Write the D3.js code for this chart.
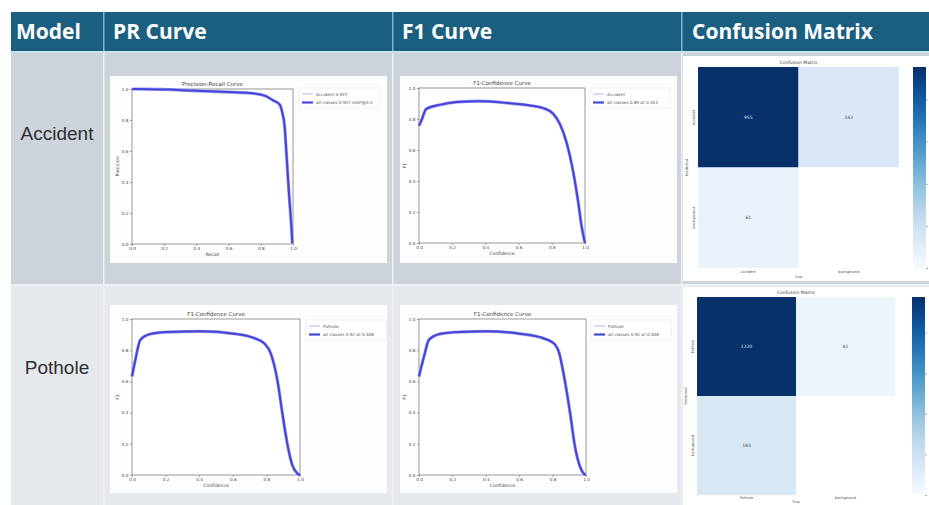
<!DOCTYPE html>
<html><head><meta charset="utf-8">
<script src="https://cdn.jsdelivr.net/npm/d3@7"></script>
<style>html,body{margin:0;padding:0;background:#fff;}svg{display:block;}</style>
</head><body>
<svg id="c" width="929" height="505"></svg>
<script>
// ---------- data ----------
const headers = ["Model", "PR Curve", "F1 Curve", "Confusion Matrix"];
const models = ["Accident", "Pothole"];
const axisTicks = [0, 0.2, 0.4, 0.6, 0.8, 1.0];

// Accident PR curve (recall, precision)
const accPrRecall    = [0, 0.10, 0.237, 0.36, 0.485, 0.60, 0.73, 0.825, 0.876, 0.918, 0.934, 0.948, 0.959, 0.975, 0.99, 0.996];
const accPrPrecision = [1.0, 0.999, 0.996, 0.99, 0.985, 0.98, 0.974, 0.957, 0.927, 0.899, 0.845, 0.759, 0.586, 0.328, 0.112, 0.004];

// Accident F1 curve (confidence, F1)
const accF1Conf = [0, 0.014, 0.044, 0.125, 0.225, 0.366, 0.527, 0.668, 0.749, 0.809, 0.849, 0.889, 0.93, 0.96, 0.98, 1.0];
const accF1     = [0.757, 0.789, 0.865, 0.891, 0.909, 0.915, 0.904, 0.887, 0.87, 0.833, 0.767, 0.648, 0.452, 0.257, 0.104, 0.0];

// Pothole F1 curve (shown in the PR column)
const potF1ConfA = [0, 0.02, 0.05, 0.109, 0.209, 0.408, 0.606, 0.726, 0.785, 0.825, 0.865, 0.895, 0.924, 0.954, 0.984, 1.0];
const potF1A     = [0.632, 0.739, 0.867, 0.904, 0.916, 0.921, 0.906, 0.878, 0.846, 0.782, 0.61, 0.396, 0.203, 0.064, 0.01, 0.0];

// Pothole F1 curve (F1 column)
const potF1ConfB = [0, 0.03, 0.06, 0.13, 0.25, 0.40, 0.60, 0.74, 0.805, 0.84, 0.865, 0.905, 0.934, 0.964, 0.985, 1.0];
const potF1B     = [0.632, 0.76, 0.867, 0.905, 0.917, 0.921, 0.906, 0.878, 0.846, 0.78, 0.653, 0.396, 0.182, 0.054, 0.01, 0.0];

// Confusion matrices [row = predicted][col = true]
const accCmLabels = ["Accident", "background"];
const accCm = [[955, 142], [61, null]];
const accCbTicks = [0, 200, 400, 600, 800];
const potCmLabels = ["Pothole", "background"];
const potCm = [[1220, 61], [183, null]];
const potCbTicks = [0, 250, 500, 750, 1000];

// ---------- drawing ----------
const svg = d3.select("#c");
const FONT = "'DejaVu Sans', sans-serif";

// table backgrounds
svg.append("rect").attr("x", 11).attr("y", 12).attr("width", 918).attr("height", 39).attr("fill", "#1b5f80");
svg.append("rect").attr("x", 11).attr("y", 51).attr("width", 918).attr("height", 2).attr("fill", "#c4e3f1");
svg.append("rect").attr("x", 11).attr("y", 53).attr("width", 918).attr("height", 231).attr("fill", "#cdd3db");
svg.append("rect").attr("x", 11).attr("y", 284).attr("width", 918).attr("height", 2).attr("fill", "#eef1f4");
svg.append("rect").attr("x", 11).attr("y", 286).attr("width", 918).attr("height", 219).attr("fill", "#e5e8ec");

const colX = [103, 392, 681];
colX.forEach(x => {
  svg.append("rect").attr("x", x).attr("y", 12).attr("width", 1.5).attr("height", 39).attr("fill", "#7fb3cc");
  svg.append("rect").attr("x", x).attr("y", 53).attr("width", 1.5).attr("height", 452).attr("fill", "#eef0f3");
});

const headerX = [16, 113, 402, 692];
svg.selectAll("text.hdr").data(headers).join("text").attr("class", "hdr")
  .attr("x", (d, i) => headerX[i]).attr("y", 39)
  .attr("fill", "#fff").attr("font-family", "'Open Sans', sans-serif")
  .attr("font-weight", 700).attr("font-size", 21).text(d => d);

const rowY = [140, 374];
svg.selectAll("text.row").data(models).join("text").attr("class", "row")
  .attr("x", 57).attr("y", (d, i) => rowY[i]).attr("text-anchor", "middle")
  .attr("fill", "#2e2e2e").attr("font-family", "'Liberation Sans', Arial, sans-serif")
  .attr("font-size", 19).text(d => d);

function curvePanel(cfg) {
  const g = svg.append("g");
  g.append("rect").attr("x", cfg.box[0]).attr("y", cfg.box[1])
    .attr("width", cfg.box[2] - cfg.box[0]).attr("height", cfg.box[3] - cfg.box[1]).attr("fill", "#fdfdfd");
  const [l, t, r, b] = cfg.plot;
  const x = d3.scaleLinear().domain([0, 1]).range([l, r]);
  const y = d3.scaleLinear().domain([0, 1]).range([b, t]);
  g.append("rect").attr("x", l).attr("y", t).attr("width", r - l).attr("height", b - t)
    .attr("fill", "#fff").attr("stroke", "#555").attr("stroke-width", 0.6);
  const fmt = d3.format(".1f");
  const ax = g.append("g").attr("transform", `translate(0,${b})`)
    .call(d3.axisBottom(x).tickValues(axisTicks).tickFormat(fmt).tickSize(2).tickPadding(1.5));
  const ay = g.append("g").attr("transform", `translate(${l},0)`)
    .call(d3.axisLeft(y).tickValues(axisTicks).tickFormat(fmt).tickSize(2).tickPadding(1.5));
  [ax, ay].forEach(a => {
    a.select(".domain").remove();
    a.selectAll("line").attr("stroke", "#555").attr("stroke-width", 0.5);
    a.selectAll("text").attr("font-size", 4.2).attr("font-family", FONT).attr("fill", "#444");
  });
  const pts = cfg.xs.map((v, i) => [v, cfg.ys[i]]);
  const line = d3.line().x(d => x(d[0])).y(d => y(d[1])).curve(d3.curveMonotoneX);
  g.append("path").datum(pts).attr("d", line).attr("fill", "none")
    .attr("stroke", "#9d9df5").attr("stroke-width", 3.2);
  g.append("path").datum(pts).attr("d", line).attr("fill", "none")
    .attr("stroke", "#4545d8").attr("stroke-width", 2);
  g.append("text").attr("x", (l + r) / 2).attr("y", t - 3).attr("text-anchor", "middle")
    .attr("font-size", 5.5).attr("font-family", FONT).attr("fill", "#444").text(cfg.title);
  g.append("text").attr("x", (l + r) / 2).attr("y", b + 12).attr("text-anchor", "middle")
    .attr("font-size", 4.5).attr("font-family", FONT).attr("fill", "#444").text(cfg.xlabel);
  g.append("text").attr("transform", `translate(${l - 13},${(t + b) / 2}) rotate(-90)`)
    .attr("text-anchor", "middle").attr("font-size", 4.5).attr("font-family", FONT)
    .attr("fill", "#444").text(cfg.ylabel);
  // legend
  const lx = cfg.legend[0], ly = cfg.legend[1];
  g.append("rect").attr("x", lx).attr("y", ly).attr("width", 80).attr("height", 20)
    .attr("fill", "#fff").attr("stroke", "#e4e4e4").attr("stroke-width", 0.5);
  cfg.legendLabels.forEach((s, i) => {
    const yy = ly + 6 + i * 8.5;
    g.append("line").attr("x1", lx + 3).attr("x2", lx + 14).attr("y1", yy).attr("y2", yy)
      .attr("stroke", i === 0 ? "#9aa8ee" : "#4545d8").attr("stroke-width", i === 0 ? 0.8 : 2.2);
    g.append("text").attr("x", lx + 17).attr("y", yy + 1.5).attr("font-size", 4.2)
      .attr("font-family", FONT).attr("fill", "#555").text(s);
  });
}

curvePanel({ box: [110, 76, 387, 263], plot: [132, 89, 293, 244], xs: accPrRecall, ys: accPrPrecision,
  title: "Precision-Recall Curve", xlabel: "Recall", ylabel: "Precision",
  legend: [299, 88], legendLabels: ["Accident 0.937", "all classes 0.937 mAP@0.5"] });
curvePanel({ box: [400, 76, 677, 263], plot: [419, 88, 585, 243], xs: accF1Conf, ys: accF1,
  title: "F1-Confidence Curve", xlabel: "Confidence", ylabel: "F1",
  legend: [590, 88], legendLabels: ["Accident", "all classes 0.89 at 0.353"] });
curvePanel({ box: [110, 305, 387, 493], plot: [132, 319, 300, 475], xs: potF1ConfA, ys: potF1A,
  title: "F1-Confidence Curve", xlabel: "Confidence", ylabel: "F1",
  legend: [306, 320], legendLabels: ["Pothole", "all classes 0.92 at 0.408"] });
curvePanel({ box: [400, 305, 677, 493], plot: [419, 319, 586, 475], xs: potF1ConfB, ys: potF1B,
  title: "F1-Confidence Curve", xlabel: "Confidence", ylabel: "F1",
  legend: [591, 320], legendLabels: ["Pothole", "all classes 0.92 at 0.408"] });

let gradId = 0;
function cmPanel(cfg) {
  const g = svg.append("g");
  g.append("rect").attr("x", cfg.box[0]).attr("y", cfg.box[1])
    .attr("width", cfg.box[2] - cfg.box[0]).attr("height", cfg.box[3] - cfg.box[1]).attr("fill", "#fff");
  const [l, t, r, b] = cfg.plot;
  const max = d3.max(cfg.cm.flat().filter(v => v != null));
  const color = d3.scaleSequential(d3.interpolateBlues).domain([0, max]);
  const xb = d3.scaleBand().domain(cfg.labels).range([l, r]);
  const yb = d3.scaleBand().domain(cfg.labels).range([t, b]);
  cfg.cm.forEach((row, i) => row.forEach((v, j) => {
    g.append("rect").attr("x", xb(cfg.labels[j])).attr("y", yb(cfg.labels[i]))
      .attr("width", xb.bandwidth()).attr("height", yb.bandwidth())
      .attr("fill", v == null ? "#fff" : color(v));
    if (v != null) {
      g.append("text").attr("x", xb(cfg.labels[j]) + xb.bandwidth() / 2)
        .attr("y", yb(cfg.labels[i]) + yb.bandwidth() / 2 + 1.5).attr("text-anchor", "middle")
        .attr("font-size", 4.5).attr("font-family", FONT)
        .attr("fill", v / max > 0.5 ? "#dfe6f5" : "#444").text(v);
    }
  }));
  g.append("text").attr("x", (l + r) / 2).attr("y", t - 3).attr("text-anchor", "middle")
    .attr("font-size", 4.5).attr("font-family", FONT).attr("fill", "#444").text("Confusion Matrix");
  cfg.labels.forEach(s => {
    g.append("text").attr("x", xb(s) + xb.bandwidth() / 2).attr("y", b + cfg.tickDy).attr("text-anchor", "middle")
      .attr("font-size", 3.6).attr("font-family", FONT).attr("fill", "#555").text(s);
    g.append("text").attr("transform", `translate(${l - 3},${yb(s) + yb.bandwidth() / 2}) rotate(-90)`)
      .attr("text-anchor", "middle").attr("font-size", 3.6).attr("font-family", FONT).attr("fill", "#555").text(s);
  });
  g.append("text").attr("x", (l + r) / 2).attr("y", b + cfg.labelDy).attr("text-anchor", "middle")
    .attr("font-size", 3.5).attr("font-family", FONT).attr("fill", "#555").text("True");
  g.append("text").attr("transform", `translate(${l - 10},${(t + b) / 2}) rotate(-90)`)
    .attr("text-anchor", "middle").attr("font-size", 3.6).attr("font-family", FONT).attr("fill", "#555").text("Predicted");
  // colorbar (tick labels fall beyond the right edge in the reference, only tick marks visible)
  const id = "cb" + (gradId++);
  const grad = svg.append("defs").append("linearGradient").attr("id", id)
    .attr("x1", 0).attr("y1", 1).attr("x2", 0).attr("y2", 0);
  d3.range(0, 1.01, 0.1).forEach(p => grad.append("stop").attr("offset", p).attr("stop-color", d3.interpolateBlues(p)));
  const cx = cfg.cbX;
  g.append("rect").attr("x", cx).attr("y", t).attr("width", 13).attr("height", b - t).attr("fill", `url(#${id})`);
  const cy = d3.scaleLinear().domain([0, max]).range([b, t]);
  g.append("g").attr("transform", `translate(${cx + 13},0)`)
    .call(d3.axisRight(cy).tickValues(cfg.cbTicks).tickSize(2).tickFormat(""))
    .call(a => { a.select(".domain").remove(); a.selectAll("line").attr("stroke", "#555").attr("stroke-width", 0.5); });
}

cmPanel({ box: [683, 56, 929, 281], plot: [698, 67, 899, 268], cm: accCm, labels: accCmLabels, cbTicks: accCbTicks, cbX: 913, tickDy: 5, labelDy: 10 });
cmPanel({ box: [683, 287, 929, 505], plot: [697, 297, 895, 495], cm: potCm, labels: potCmLabels, cbTicks: potCbTicks, cbX: 912, tickDy: 4, labelDy: 8 });
</script>
</body></html>
